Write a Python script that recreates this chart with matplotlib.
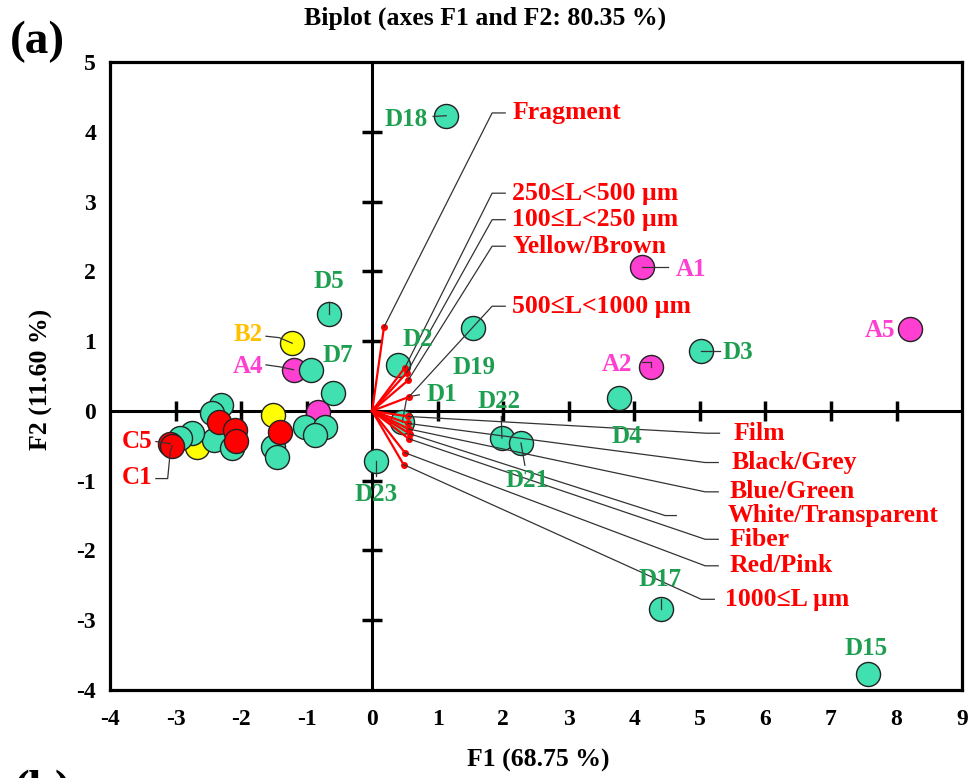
import numpy as np
import matplotlib
matplotlib.use('Agg')
import matplotlib.pyplot as plt

plt.rcParams['font.family'] = ['Liberation Serif', 'DejaVu Serif']
plt.rcParams['font.weight'] = 'bold'
plt.rcParams['axes.unicode_minus'] = False

# observations (F1, F2 scores)
obs_names = ['D18', 'D5', 'D7', 'D2', 'D19', 'D1', 'D22', 'D21', 'D23', 'D4', 'D3', 'D17', 'D15',
             '', '', '', '', '', '', '', '', '', '', '', '',
             'B2', '', '',
             'A1', 'A2', 'A5', 'A4', '',
             'C5', 'C1', '', '', '', '']
obs_f1 = [1.13, -0.66, -0.93, 0.40, 1.54, 0.46, 1.98, 2.27, 0.06, 3.76, 5.01, 4.40, 7.57,
          -0.59, -1.02, -0.72, -0.87, -1.51, -1.45, -2.31, -2.44, -2.42, -2.14, -2.75, -2.93,
          -1.22, -1.52, -2.67,
          4.11, 4.26, 8.21, -1.20, -0.82,
          -3.08, -3.05, -2.34, -2.10, -2.08, -1.40]
obs_f2 = [4.23, 1.39, 0.58, 0.66, 1.19, -0.16, -0.39, -0.46, -0.72, 0.19, 0.86, -2.84, -3.77,
          0.25, -0.23, -0.23, -0.34, -0.52, -0.66, 0.09, -0.03, -0.42, -0.53, -0.32, -0.39,
          0.97, -0.06, -0.52,
          2.06, 0.63, 1.17, 0.59, -0.01,
          -0.47, -0.50, -0.16, -0.27, -0.43, -0.30]
obs_group = ['D'] * 25 + ['B'] * 3 + ['A'] * 5 + ['C'] * 6

# variables (loadings)
var_names = ['Fragment', '250≤L<500 µm', '100≤L<250 µm', 'Yellow/Brown', '500≤L<1000 µm',
             'Film', 'Black/Grey', 'Blue/Green', 'White/Transparent', 'Fiber', 'Red/Pink', '1000≤L µm']
var_f1 = [0.18, 0.50, 0.53, 0.55, 0.56, 0.55, 0.55, 0.56, 0.58, 0.56, 0.50, 0.48]
var_f2 = [1.20, 0.62, 0.55, 0.44, 0.20, -0.08, -0.18, -0.26, -0.33, -0.40, -0.60, -0.77]

group_fill = {'D': '#40E0B0', 'B': '#FFFF00', 'A': '#FF3FD2', 'C': '#FF0000'}
group_text = {'D': '#1E9E50', 'B': '#FFC000', 'A': '#FF3FD2', 'C': '#FF0000'}
draw_order = ['B', 'A', 'D', 'C']

# label placement: text x, y, ha, leader path (to point)
obs_lab_pos = {
    'D18': (0.85, 4.17, 'right', [(0.93, 4.22)]),
    'D5': (-0.66, 1.86, 'center', [(-0.66, 1.56)]),
    'B2': (-1.66, 1.10, 'right', [(-1.62, 1.07), (-1.42, 1.05)]),
    'A4': (-1.66, 0.64, 'right', [(-1.62, 0.66), (-1.40, 0.63)]),
    'D7': (-0.52, 0.80, 'center', None),
    'D2': (0.70, 1.02, 'center', None),
    'D19': (1.56, 0.62, 'center', None),
    'D1': (1.06, 0.23, 'center', [(0.72, 0.23), (0.53, 0.20)]),
    'D22': (1.94, 0.13, 'center', [(1.97, -0.08)]),
    'D21': (2.37, -1.00, 'center', [(2.33, -0.78)]),
    'D4': (3.88, -0.37, 'center', None),
    'D23': (0.06, -1.20, 'center', [(0.06, -0.94)]),
    'A1': (4.63, 2.02, 'left', [(4.52, 2.06)]),
    'A2': (3.97, 0.66, 'right', [(4.12, 0.70), (4.26, 0.70)]),
    'D3': (5.34, 0.83, 'left', [(5.30, 0.86)]),
    'A5': (7.98, 1.15, 'right', None),
    'D17': (4.40, -2.42, 'center', [(4.40, -2.70)]),
    'D15': (7.54, -3.40, 'center', None),
    'C5': (-3.36, -0.44, 'right', [(-3.30, -0.44)]),
    'C1': (-3.36, -0.95, 'right', [(-3.30, -0.97), (-3.12, -0.97), (-3.08, -0.58)]),
}
# variable labels: text x, y, elbow x, end x
var_lab_pos = {
    'Fragment': (2.14, 4.27, 1.83, 2.03),
    '250≤L<500 µm': (2.14, 3.12, 1.83, 2.03),
    '100≤L<250 µm': (2.14, 2.74, 1.83, 2.03),
    'Yellow/Brown': (2.14, 2.36, 1.83, 2.03),
    '500≤L<1000 µm': (2.14, 1.50, 1.83, 2.03),
    'Film': (5.52, -0.32, 5.10, 5.30),
    'Black/Grey': (5.48, -0.74, 5.08, 5.28),
    'Blue/Green': (5.45, -1.16, 5.08, 5.28),
    'White/Transparent': (5.42, -1.50, 4.47, 4.64),
    'Fiber': (5.45, -1.84, 5.08, 5.28),
    'Red/Pink': (5.45, -2.22, 5.08, 5.28),
    '1000≤L µm': (5.38, -2.70, 5.02, 5.22),
}

fig = plt.figure(figsize=(9.7, 7.78), dpi=100)
ax = fig.add_axes([0.1134, 0.1131, 0.8784, 0.8072])
ax.set_xlim(-4, 9)
ax.set_ylim(-4, 5)

# zero lines with cross ticks
ax.axhline(0, color='black', lw=2.2, zorder=1)
ax.axvline(0, color='black', lw=2.2, zorder=1)
xt = [t for t in range(-4, 10) if t not in (-4, 0, 9)]
yt = [t for t in range(-4, 6) if t not in (-4, 0, 5)]
ax.plot(xt, np.zeros(len(xt)), ls='none', marker='|', ms=15, mew=2.5, color='black', zorder=1)
ax.plot(np.zeros(len(yt)), yt, ls='none', marker='_', ms=15, mew=2.5, color='black', zorder=1)

f1 = np.array(obs_f1)
f2 = np.array(obs_f2)
grp = np.array(obs_group)
for g in draw_order:
    m = grp == g
    ax.scatter(f1[m], f2[m], s=300, c=group_fill[g], edgecolors='#222222', linewidths=1.0, zorder=3)

# point labels
for name, x, y, g in zip(obs_names, obs_f1, obs_f2, obs_group):
    if not name:
        continue
    tx, ty, ha, path = obs_lab_pos[name]
    ax.text(tx, ty, name, ha=ha, va='center', fontsize=18, fontweight='bold',
            color=group_text[g], zorder=5)
    if path:
        px = [p[0] for p in path] + [x]
        py = [p[1] for p in path] + [y]
        ax.plot(px, py, color='#333333', lw=0.9, zorder=4)

# variable vectors
for name, x, y in zip(var_names, var_f1, var_f2):
    ax.plot([0, x], [0, y], color='red', lw=1.6, zorder=4)
    ax.plot(x, y, 'o', color='red', ms=4, zorder=4)
    tx, ty, ex, endx = var_lab_pos[name]
    ax.plot([x, ex, endx], [y, ty, ty], color='#333333', lw=0.9, zorder=4)
    ax.text(tx, ty, name, ha='left', va='center', fontsize=18.5, fontweight='bold',
            color='red', zorder=5)

for sp in ax.spines.values():
    sp.set_linewidth(2.3)
ax.set_xticks(range(-4, 10))
ax.set_yticks(range(-4, 6))
ax.tick_params(length=0, labelsize=17, pad=14)
ax.tick_params(axis='y', pad=10)
for lab in ax.get_xticklabels() + ax.get_yticklabels():
    lab.set_fontweight('bold')

fig.text(0.043, 0.512, 'F2 (11.60 %)', rotation=90, ha='center', va='center', fontsize=18.5, fontweight='bold')
fig.text(0.555, 0.023, 'F1 (68.75 %)', ha='center', va='center', fontsize=18.5, fontweight='bold')
fig.text(0.5, 0.977, 'Biplot (axes F1 and F2: 80.35 %)', ha='center', va='center', fontsize=18.5, fontweight='bold')
fig.text(0.039, 0.946, '(a)', ha='center', va='center', fontsize=34, fontweight='bold')
fig.text(0.044, -0.016, '(b)', ha='center', va='center', fontsize=34, fontweight='bold')

fig.savefig('out.png', dpi=100)
